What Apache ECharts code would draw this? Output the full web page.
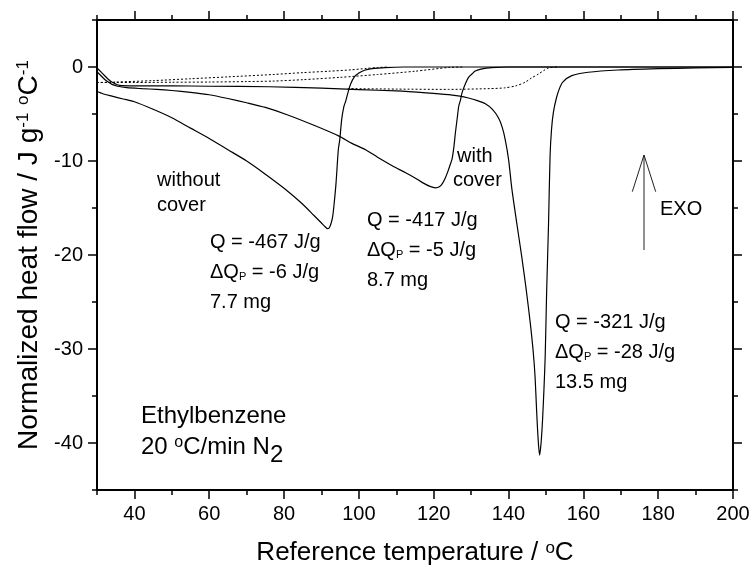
<!DOCTYPE html>
<html>
<head>
<meta charset="utf-8">
<script src="https://cdn.jsdelivr.net/npm/echarts@6.0.0/dist/echarts.min.js"></script>
<style>
html, body { margin: 0; padding: 0; background: #fff; }
#chart { width: 751px; height: 569px; }
</style>
</head>
<body>
<div id="chart"></div>
<script>
// without cover, 7.7 mg
const tempA = [30, 31, 32, 34, 37, 40, 45, 50, 55, 60, 65, 70, 75, 80, 85, 88, 90, 91, 91.6, 92.1, 92.6, 93.0, 93.4, 93.9, 94.5, 94.9, 95.4, 96.0, 96.5, 97.3, 97.8, 98.7, 100, 101.5, 103.5, 107, 112, 130, 160, 200];
const flowA = [-2.6, -2.75, -2.9, -3.1, -3.4, -3.7, -4.5, -5.4, -6.5, -7.6, -8.8, -10.0, -11.4, -12.9, -14.6, -15.8, -16.6, -17.0, -17.2, -17.1, -16.6, -15.9, -14.5, -12.3, -8.8, -7.7, -5.6, -4.2, -3.6, -2.4, -1.8, -1.1, -0.65, -0.35, -0.18, -0.06, 0, 0, 0, 0];

// with cover, 8.7 mg
const tempB = [30, 31, 32, 33, 34, 35.5, 38, 42, 46, 50, 55, 60, 65, 70, 75, 81, 88, 94.7, 98, 101.8, 105, 108.9, 112.5, 115, 117, 119, 120.5, 121.5, 122.3, 123.1, 123.8, 124.4, 124.9, 125.4, 125.8, 126.3, 126.7, 127.1, 127.6, 128.5, 129.3, 130.2, 131.1, 132.9, 135.5, 140, 160, 200];
const flowB = [-0.5, -0.9, -1.3, -1.6, -1.85, -2.05, -2.2, -2.3, -2.38, -2.5, -2.7, -2.95, -3.35, -3.8, -4.3, -5.1, -6.2, -7.35, -8.1, -8.8, -9.6, -10.5, -11.25, -11.8, -12.3, -12.7, -12.85, -12.75, -12.4, -11.8, -11.1, -10.4, -9.8, -8.5, -7.0, -5.4, -4.15, -3.6, -2.7, -1.75, -1.1, -0.75, -0.43, -0.2, -0.07, 0, 0, 0];

// 13.5 mg
const tempC = [30, 31, 32, 33, 34.2, 36, 40, 50, 60, 76, 90, 100, 110, 118, 124, 127, 129.3, 131.5, 133.8, 135.7, 137.3, 138.3, 139.1, 140, 140.9, 142.2, 143.5, 144.7, 145.8, 146.6, 147.1, 147.5, 147.9, 148.3, 148.7, 149.1, 149.5, 149.8, 150.2, 150.7, 151.1, 151.5, 152.0, 152.8, 153.6, 154.5, 156.9, 161.3, 169.3, 180, 190, 200];
const flowC = [-0.1, -0.5, -0.9, -1.3, -1.65, -1.95, -2.0, -2.0, -2.05, -2.1, -2.25, -2.4, -2.55, -2.75, -2.94, -3.1, -3.3, -3.55, -3.9, -4.5, -5.4, -6.4, -7.7, -9.8, -13.0, -16.6, -20.1, -23.6, -27.2, -30.3, -33.0, -36.5, -39.5, -41.3, -40.0, -37.5, -34.0, -30.8, -23.7, -16.6, -9.5, -6.6, -4.8, -3.3, -2.3, -1.6, -0.92, -0.56, -0.32, -0.18, -0.1, -0.05];

// dotted baselines
const baseTempA = [30, 35, 45, 55, 65, 77, 85, 92, 98, 102, 105, 108];
const baseFlowA = [-1.65, -1.6, -1.45, -1.25, -1.05, -0.8, -0.6, -0.45, -0.3, -0.15, -0.05, 0];
const baseTempB = [31, 40, 50, 60, 70, 77, 85, 95, 105, 115, 124, 128];
const baseFlowB = [-1.65, -1.65, -1.62, -1.6, -1.55, -1.5, -1.35, -1.1, -0.8, -0.45, -0.05, 0];
const baseTempC = [97, 110, 124, 135, 139, 142, 144.4, 146, 148, 149.5, 150.7, 153];
const baseFlowC = [-2.3, -2.35, -2.38, -2.3, -2.22, -2.0, -1.63, -1.2, -0.75, -0.35, -0.1, 0];

const xMajorTicks = [40, 60, 80, 100, 120, 140, 160, 180, 200];
const yMajorTicks = [-40, -30, -20, -10, 0];

const FONT = "'Liberation Sans', Arial, Helvetica, sans-serif";

function pairs(xs, ys) {
  return xs.map((x, i) => [x, ys[i]]);
}

const tickStyle = { color: '#000', width: 1.5 };

function axisSet(range, interval, majors, sides, labelOpts) {
  const base = {
    type: 'value',
    min: range[0],
    max: range[1],
    interval: interval,
    splitLine: { show: false },
    axisLine: { onZero: false, lineStyle: { color: '#000', width: 2 } }
  };
  const out = [];
  sides.forEach((side, i) => {
    out.push(Object.assign({}, base, {
      position: side,
      axisTick: { length: 5, lineStyle: tickStyle },
      axisLabel: { show: false }
    }));
    out.push(Object.assign({}, base, {
      position: side,
      axisLine: { show: false, onZero: false },
      axisTick: { customValues: majors, length: 9, lineStyle: tickStyle },
      axisLabel: i === 0 ? Object.assign({ customValues: majors }, labelOpts) : { show: false }
    }));
  });
  return out;
}

const labelBase = { fontSize: 20, color: '#000', fontFamily: FONT, margin: 14 };

const xAxes = axisSet([30, 200], 10, xMajorTicks, ['bottom', 'top'], labelBase);
xAxes[1].name = 'Reference temperature / {sup|o}C';
xAxes[1].nameLocation = 'middle';
xAxes[1].nameGap = 50;
xAxes[1].nameTextStyle = {
  fontSize: 26, color: '#000', fontFamily: FONT,
  rich: { sup: { fontSize: 17, verticalAlign: 'top', fontFamily: FONT, color: '#000' } }
};

const yAxes = axisSet([-45, 5], 5, yMajorTicks, ['left', 'right'], labelBase);
yAxes[1].name = 'Normalized heat flow / J g{sup|-1} {sup|o}C{sup|-1}';
yAxes[1].nameLocation = 'middle';
yAxes[1].nameGap = 52;
yAxes[1].nameTextStyle = {
  fontSize: 28, color: '#000', fontFamily: FONT,
  rich: { sup: { fontSize: 17, verticalAlign: 'top', fontFamily: FONT, color: '#000' } }
};

function curve(xs, ys, dotted) {
  return {
    type: 'line',
    xAxisIndex: 0,
    yAxisIndex: 0,
    data: pairs(xs, ys),
    showSymbol: false,
    smooth: 0.25,
    silent: true,
    lineStyle: dotted
      ? { color: '#000', width: 1, type: [2, 2] }
      : { color: '#000', width: 1.2 }
  };
}

const richSub = {
  m: { fontSize: 20, lineHeight: 20, fontFamily: FONT, fill: '#000' },
  s: { fontSize: 11, lineHeight: 11, verticalAlign: 'bottom', fontFamily: FONT, fill: '#000' }
};

function note(text, x, y) {
  return {
    type: 'text', left: x, top: y, silent: true,
    style: { text: text, rich: richSub, fontSize: 20, lineHeight: 20, fontFamily: FONT, fill: '#000' }
  };
}

const richBig = {
  m: { fontSize: 24, verticalAlign: 'top', fontFamily: FONT, fill: '#000' },
  sup: { fontSize: 16, verticalAlign: 'top', fontFamily: FONT, fill: '#000' },
  low: { fontSize: 24, verticalAlign: 'top', padding: [8, 0, 0, 0], fontFamily: FONT, fill: '#000' }
};

const chart = echarts.init(document.getElementById('chart'), null, { renderer: 'canvas' });

chart.setOption({
  backgroundColor: '#fff',
  animation: false,
  grid: { left: 97, right: 18, top: 20, bottom: 79, containLabel: false, outerBoundsMode: 'none' },
  xAxis: xAxes,
  yAxis: yAxes,
  series: [
    curve(baseTempA, baseFlowA, true),
    curve(baseTempB, baseFlowB, true),
    curve(baseTempC, baseFlowC, true),
    curve(tempA, flowA, false),
    curve(tempB, flowB, false),
    curve(tempC, flowC, false)
  ],
  graphic: [
    note('{m|without}', 157, 170),
    note('{m|cover}', 157, 195),
    note('{m|Q = -467 J/g}', 210, 232),
    note('{m|ΔQ}{s|P}{m| = -6 J/g}', 210, 262),
    note('{m|7.7 mg}', 210, 292),
    note('{m|with}', 457, 146),
    note('{m|cover}', 453, 170),
    note('{m|Q = -417 J/g}', 367, 210),
    note('{m|ΔQ}{s|P}{m| = -5 J/g}', 367, 240),
    note('{m|8.7 mg}', 367, 270),
    note('{m|Q = -321 J/g}', 555, 312),
    note('{m|ΔQ}{s|P}{m| = -28 J/g}', 555, 342),
    note('{m|13.5 mg}', 555, 372),
    note('{m|EXO}', 660, 199),
    {
      type: 'text', left: 141, top: 404, silent: true,
      style: { text: '{m|Ethylbenzene}', rich: richBig, fontSize: 24, fontFamily: FONT, fill: '#000' }
    },
    {
      type: 'text', left: 141, top: 435, silent: true,
      style: { text: '{m|20 }{sup|o}{m|C/min N}{low|2}', rich: richBig, fontSize: 24, fontFamily: FONT, fill: '#000' }
    },
    {
      type: 'line', silent: true,
      shape: { x1: 644, y1: 250, x2: 644, y2: 155 },
      style: { stroke: '#222', lineWidth: 1 }
    },
    {
      type: 'polyline', silent: true,
      shape: { points: [[632.3, 191.7], [644, 155], [655.7, 191.7]] },
      style: { stroke: '#222', lineWidth: 1, fill: null }
    }
  ]
});
</script>
</body>
</html>
